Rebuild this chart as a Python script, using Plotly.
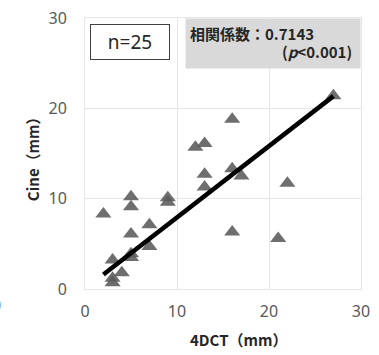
import numpy as np
import plotly.graph_objects as go

# Data
dct_4d = [2, 5, 5, 9, 9, 7, 5, 7, 5, 5, 3, 4, 3, 3,
          16, 12, 13, 13, 13, 16, 17, 16, 27, 22, 21]
cine = [8.3, 10.2, 9.1, 10.1, 9.6, 7.1, 6.1, 4.7, 3.9, 3.5, 3.2, 1.8, 1.2, 0.7,
        18.8, 15.7, 16.1, 12.7, 11.3, 13.3, 12.5, 6.3, 21.4, 11.7, 5.6]
# Trend line as drawn in the reference (slope / intercept)
trend_slope = 0.79
trend_intercept = 0.02
x_ticks = [0, 10, 20, 30]
y_ticks = [0, 10, 20, 30]
n_label = "n=25"
corr_line1 = "相関係数：0.7143"
corr_line2 = "(<i>p</i><0.001)"
x_title = "4DCT（mm）"
y_title = "Cine（mm）"

x = np.array(dct_4d, dtype=float)
line_x = np.array([x.min(), x.max()])
line_y = trend_slope * line_x + trend_intercept

FONT = "Noto Sans, Roboto, DejaVu Sans, sans-serif"
JP = "Noto Sans CJK JP, Noto Sans, sans-serif"

fig = go.Figure()
fig.add_trace(go.Scatter(
    x=dct_4d, y=cine, mode="markers",
    marker=dict(symbol="triangle-up", size=14, color="rgba(90,90,90,0.88)",
                line=dict(width=0)),
    showlegend=False, hoverinfo="skip"))
fig.add_trace(go.Scatter(
    x=line_x, y=line_y, mode="lines",
    line=dict(color="black", width=4.5),
    showlegend=False, hoverinfo="skip"))

axis_common = dict(
    range=[0, 30], showgrid=True, gridcolor="#e6e6e6",
    gridwidth=1, showline=True, linecolor="#e6e6e6", linewidth=1, mirror=True,
    zeroline=False, ticks="outside", tickcolor="rgba(0,0,0,0)",
    tickfont=dict(family=FONT, size=16, color="#595959"),
    automargin=False,
)

fig.update_layout(
    width=379, height=355,
    margin=dict(l=85, r=18, t=18, b=66),
    paper_bgcolor="white", plot_bgcolor="white",
    xaxis=dict(**axis_common, tickvals=x_ticks, ticklen=8),
    yaxis=dict(**axis_common, tickvals=y_ticks, ticklen=14),
    annotations=[
        dict(text=n_label, xref="paper", yref="paper", x=0.018, y=0.978,
             xanchor="left", yanchor="top", showarrow=False,
             font=dict(family=FONT, size=19, color="#262626"),
             bordercolor="#404040", borderwidth=1, borderpad=4,
             bgcolor="white", width=70, height=26),
        dict(text=corr_line1, xref="paper", yref="paper", x=1.0, y=1.0,
             xanchor="right", yanchor="top", showarrow=False, align="left",
             valign="top",
             font=dict(family=JP, size=15, color="#262626", weight="bold"),
             bgcolor="#d9d9d9", borderpad=4, width=166, height=41),
        dict(text=corr_line2, xref="paper", yref="paper", x=0.975, y=0.875,
             xanchor="right", yanchor="middle", showarrow=False, align="right",
             font=dict(family=JP, size=15, color="#262626", weight="bold")),
        dict(text=x_title, xref="paper", yref="paper", x=0.555, y=-0.188,
             xanchor="center", yanchor="middle", showarrow=False,
             font=dict(family=JP, size=15, color="#262626", weight="bold")),
        dict(text=y_title, xref="paper", yref="paper", x=-0.192, y=0.494,
             xanchor="center", yanchor="middle", showarrow=False, textangle=-90,
             font=dict(family=JP, size=15, color="#262626", weight="bold")),
        dict(text="0", xref="paper", yref="paper", x=-0.298, y=-0.059,
             xanchor="right", yanchor="middle", showarrow=False,
             font=dict(family=FONT, size=16, color="#595959")),
    ],
)

fig.write_html("out.html",
               config={"displayModeBar": False},
               post_script="document.body.style.margin='0';document.body.style.overflow='hidden';")
